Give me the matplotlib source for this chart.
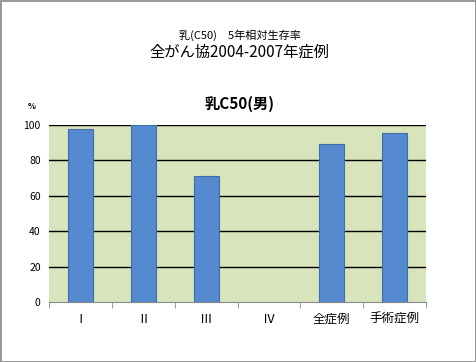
import numpy as np
import matplotlib
matplotlib.use("Agg")
import matplotlib.pyplot as plt

plt.rcParams['font.family'] = ['Noto Sans CJK JP', 'DejaVu Sans']

# data
categories = ['Ⅰ', 'Ⅱ', 'Ⅲ', 'Ⅳ', '全症例', '手術症例']
survival = [97.8, 100.0, 71.2, np.nan, 89.3, 95.5]
yticks = [0, 20, 40, 60, 80, 100]

fig = plt.figure(figsize=(4.76, 3.62), dpi=100)
fig.patch.set_facecolor('white')
fig.patch.set_edgecolor('#999999')
fig.patch.set_linewidth(2)

ax = fig.add_axes([0.103, 0.166, 0.792, 0.489])
ax.set_facecolor('#d8e4bc')

x = np.arange(len(categories))
ax.bar(x, survival, width=0.4, color='#558ad0', edgecolor='#3f6fa8', linewidth=0.8, zorder=3)

ax.set_xlim(-0.5, len(categories) - 0.5)
ax.set_ylim(0, 100)
ax.set_yticks(yticks)
ax.set_yticklabels([str(v) for v in yticks], fontsize=7.5)
for v in yticks[1:]:
    ax.axhline(v, color='black', linewidth=1, zorder=2)

ax.set_xticks(x)
ax.set_xticklabels(categories, fontsize=9)
ax.set_xticks(np.arange(-0.5, len(categories)), minor=True)
ax.tick_params(axis='x', which='major', length=0, pad=8)
ax.tick_params(axis='x', which='minor', length=4, color='#888888')
ax.tick_params(axis='y', length=0, pad=6)

for s in ['top', 'right', 'left']:
    ax.spines[s].set_visible(False)
ax.spines['bottom'].set_color('#888888')

fig.text(0.504, 0.903, '乳(C50)　5年相対生存率', ha='center', va='center', fontsize=8)
fig.text(0.504, 0.856, '全がん協2004-2007年症例', ha='center', va='center', fontsize=11)
fig.text(0.504, 0.712, '乳C50(男)', ha='center', va='center', fontsize=11, fontweight='bold')
fig.text(0.067, 0.707, '%', ha='center', va='center', fontsize=6, fontweight='bold')

fig.savefig('out.png', dpi=100, facecolor=fig.get_facecolor(), edgecolor=fig.get_edgecolor())
